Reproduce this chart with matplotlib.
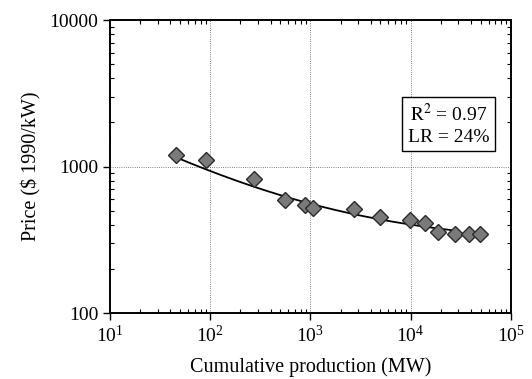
import numpy as np
import matplotlib
matplotlib.use("Agg")
import matplotlib.pyplot as plt
from matplotlib.ticker import LogLocator, NullFormatter

plt.rcParams['font.family'] = ['Liberation Serif', 'DejaVu Serif']
plt.rcParams['mathtext.fontset'] = 'stix'

# cumulative production (MW) and price ($1990/kW)
production = [45, 90, 275, 560, 890, 1070, 2750, 4900, 9800, 14000, 19000, 28000, 38000, 49000]
price = [1200, 1110, 820, 590, 545, 520, 513, 452, 431, 411, 357, 347, 347, 347]

# fitted curve y = a + b * x^-c (parameters estimated from the drawn line)
fit_a, fit_b, fit_c = 290, 3697, 0.38
fit_start, fit_end = 45, 27000

fig = plt.figure(figsize=(5.32, 3.79), dpi=100)
ax = fig.add_axes([0.207, 0.174, 0.753, 0.773])

fx = np.logspace(np.log10(fit_start), np.log10(fit_end), 200)
ax.plot(fx, fit_a + fit_b * fx ** (-fit_c), color='black', lw=1.3, zorder=3)
ax.plot(production, price, linestyle='none', marker='D', ms=8,
        markerfacecolor='#7a7a7a', markeredgecolor='#2a2a2a', markeredgewidth=1.0, zorder=4)

ax.set_xscale('log')
ax.set_yscale('log')
ax.set_xlim(10, 1e5)
ax.set_ylim(100, 10000)

ax.set_yticks([100, 1000, 10000])
ax.set_yticklabels(['100', '1000', '10000'])
ax.yaxis.set_minor_locator(LogLocator(base=10, subs=np.arange(2, 10)))
ax.yaxis.set_minor_formatter(NullFormatter())
ax.xaxis.set_minor_locator(LogLocator(base=10, subs=np.arange(2, 10)))
ax.xaxis.set_minor_formatter(NullFormatter())

ax.tick_params(which='major', direction='out', length=5, width=1, labelsize=14)
ax.tick_params(which='minor', direction='in', length=3, width=0.8, top=True, right=True)
ax.tick_params(which='major', top=False, right=False)

ax.grid(True, which='major', color='#555555', lw=0.6, ls=':')
for s in ax.spines.values():
    s.set_linewidth(1.4)

ax.set_xlabel('Cumulative production (MW)', fontsize=14.5, labelpad=8)
ax.set_ylabel('Price ($ 1990/kW)', fontsize=14.5, labelpad=6)

ax.text(0.845, 0.645, '$\\mathrm{R}^2$ = 0.97\nLR = 24%', transform=ax.transAxes,
        ha='center', va='center', fontsize=14, linespacing=1.3,
        bbox=dict(boxstyle='square,pad=0.3', facecolor='white', edgecolor='black', lw=1.0))

fig.savefig('out.png', dpi=100)
